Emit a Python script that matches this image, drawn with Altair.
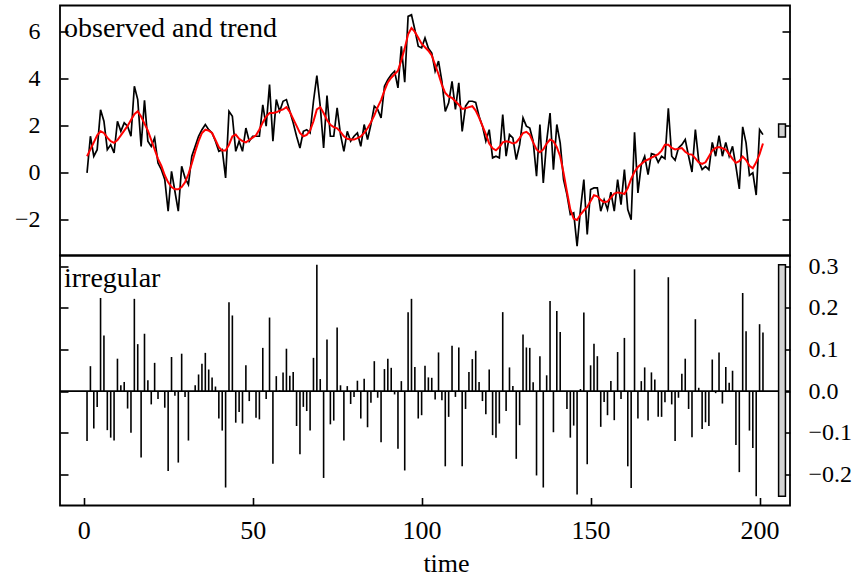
import altair as alt
import pandas as pd

# ---- series (time index 1..201) ----
time = list(range(1, 202))

observed = [
    0.00, 1.56, 0.71, 0.99, 2.69, 2.20, 0.99, 1.20, 0.85, 2.20,
    1.77, 2.13, 1.99, 1.56, 3.69, 3.12, 1.13, 3.09, 1.35, 1.13,
    1.49, 0.42, 0.14, -0.28, -1.63, 0.07, -0.78, -1.63, 0.28, -0.21,
    -0.50, 0.71, 1.13, 1.56, 1.84, 2.06, 1.84, 1.70, 1.35, 0.92,
    0.99, -0.21, 2.62, 2.41, 0.92, 1.35, 0.92, 1.91, 1.35, 1.56,
    1.56, 1.56, 2.90, 1.99, 3.76, 1.35, 3.12, 2.62, 3.05, 3.12,
    2.62, 2.13, 1.56, 1.06, 1.77, 1.84, 1.70, 3.05, 4.14, 2.84,
    1.06, 3.29, 1.56, 1.56, 2.77, 1.63, 0.92, 1.77, 1.35, 1.56,
    1.70, 1.13, 2.06, 1.42, 2.06, 2.84, 2.70, 2.34, 3.69, 3.97,
    4.18, 4.33, 3.62, 5.39, 3.86, 6.66, 6.73, 6.09, 5.39, 5.32,
    5.74, 5.30, 5.10, 4.33, 4.76, 3.90, 2.62, 2.98, 3.90, 2.70,
    3.83, 1.77, 2.84, 3.05, 3.05, 3.00, 2.41, 1.99, 1.35, 1.84,
    0.64, 0.71, 0.64, 2.48, 0.71, 1.63, 1.49, 0.57, 1.20, 2.34,
    1.99, 1.91, 1.35, -0.14, 2.06, -0.43, 1.35, 2.55, 0.14, 2.06,
    1.28, -0.28, -0.92, -1.77, -1.70, -3.12, -1.56, -0.28, -2.62, -0.71,
    -0.64, -0.64, -1.63, -1.14, -1.56, -0.82, -1.63, -0.28, -1.35, 0.14,
    -1.56, -1.99, 1.73, -0.85, 0.35, 0.71, -0.07, 0.82, 0.78, 0.45,
    0.71, 0.61, 2.75, 0.71, 0.54, 1.06, 1.20, 1.42, 0.71, 0.04,
    1.84, 0.50, 0.14, 0.28, 0.14, 1.30, 0.71, 1.59, 0.71, 1.30,
    0.71, 1.13, 0.28, -0.68, 1.96, 1.28, -0.11, 0.00, -0.94, 1.84,
    1.63,
]

trend = [
    0.71, 1.00, 1.30, 1.60, 1.77, 1.70, 1.50, 1.35, 1.28, 1.40,
    1.60, 1.80, 2.00, 2.25, 2.50, 2.62, 2.40, 2.10, 1.80, 1.40,
    1.00, 0.60, 0.30, -0.10, -0.40, -0.60, -0.70, -0.70, -0.60, -0.40,
    -0.05, 0.40, 0.90, 1.35, 1.70, 1.84, 1.80, 1.70, 1.40, 1.10,
    0.95, 0.95, 1.20, 1.55, 1.63, 1.45, 1.35, 1.30, 1.40, 1.50,
    1.60, 1.85, 2.15, 2.40, 2.55, 2.55, 2.58, 2.65, 2.70, 2.80,
    2.60, 2.30, 2.00, 1.70, 1.56, 1.62, 1.80, 2.20, 2.70, 2.80,
    2.55, 2.25, 2.05, 1.95, 1.90, 1.75, 1.56, 1.45, 1.42, 1.42,
    1.48, 1.55, 1.70, 1.90, 2.15, 2.45, 2.80, 3.10, 3.50, 3.85,
    4.05, 4.20, 4.35, 4.80, 5.30, 5.90, 6.17, 6.00, 5.75, 5.50,
    5.35, 5.20, 5.00, 4.60, 4.20, 3.75, 3.40, 3.25, 3.19, 3.05,
    2.90, 2.72, 2.75, 2.80, 2.84, 2.65, 2.35, 2.00, 1.65, 1.25,
    1.05, 0.96, 1.10, 1.30, 1.35, 1.32, 1.25, 1.30, 1.48, 1.70,
    1.75, 1.63, 1.30, 1.00, 0.88, 1.00, 1.25, 1.42, 1.35, 1.10,
    0.71, 0.00, -0.80, -1.56, -1.95, -2.00, -1.77, -1.60, -1.45, -1.20,
    -0.95, -1.00, -1.15, -1.25, -1.22, -1.05, -0.88, -0.83, -0.85, -0.90,
    -0.65, -0.25, 0.05, 0.25, 0.38, 0.50, 0.57, 0.65, 0.72, 0.80,
    0.95, 1.20, 1.20, 1.06, 1.00, 1.03, 1.06, 0.90, 0.80, 0.78,
    0.62, 0.45, 0.38, 0.45, 0.70, 0.95, 1.06, 1.10, 1.05, 0.99,
    0.80, 0.60, 0.43, 0.50, 0.70, 0.55, 0.30, 0.20, 0.45, 0.80,
    1.25,
]

irregular = [
    -0.120, 0.060, -0.090, -0.038, 0.224, 0.134, -0.094, -0.112, -0.119, 0.078,
    0.014, 0.022, -0.042, -0.100, 0.222, 0.113, -0.160, 0.138, 0.026, -0.032,
    0.068, -0.019, 0.000, -0.040, -0.192, 0.082, -0.011, -0.172, 0.090, -0.014,
    -0.119, 0.000, 0.014, 0.040, 0.066, 0.092, 0.052, 0.033, 0.011, -0.066,
    -0.095, -0.232, 0.214, 0.182, -0.076, -0.050, -0.078, 0.062, -0.024, 0.000,
    -0.064, -0.068, 0.104, -0.019, 0.177, -0.175, 0.036, 0.002, 0.045, 0.102,
    0.037, 0.046, -0.084, -0.152, -0.038, -0.048, -0.095, 0.080, 0.304, 0.029,
    -0.209, 0.124, -0.080, -0.071, 0.153, 0.014, -0.119, 0.012, -0.031, -0.014,
    0.025, -0.066, 0.030, -0.087, -0.028, 0.072, -0.016, -0.123, 0.053, 0.078,
    0.056, -0.008, -0.139, 0.024, -0.191, 0.190, 0.222, 0.058, -0.066, -0.058,
    0.061, 0.033, 0.032, -0.020, 0.093, -0.022, -0.181, -0.062, 0.109, -0.014,
    0.105, -0.181, -0.043, 0.046, 0.077, 0.097, 0.022, -0.024, -0.056, 0.052,
    -0.106, -0.112, -0.078, 0.190, -0.048, 0.057, 0.012, -0.163, -0.082, 0.136,
    0.105, 0.104, 0.021, -0.203, 0.084, -0.232, 0.038, 0.217, -0.099, 0.193,
    0.142, 0.000, -0.043, -0.112, -0.083, -0.249, 0.005, 0.189, -0.176, 0.062,
    0.114, 0.084, -0.086, -0.026, -0.058, 0.024, -0.070, 0.094, -0.019, 0.128,
    -0.181, -0.233, 0.293, -0.066, 0.024, 0.057, -0.071, 0.045, 0.028, -0.062,
    -0.062, -0.027, 0.274, -0.032, -0.120, -0.016, 0.042, 0.078, -0.043, -0.111,
    0.173, 0.008, -0.091, -0.075, -0.084, 0.076, -0.005, 0.093, -0.030, 0.058,
    0.020, 0.049, -0.130, -0.195, 0.236, 0.144, -0.095, -0.137, -0.253, 0.161,
    0.141,
]

panel_labels = ["observed and trend", "irregular"]
top_ticks = [-2, 0, 2, 4, 6]
irr_ticks = [-0.2, -0.1, 0.0, 0.1, 0.2, 0.3]
time_ticks = [0, 50, 100, 150, 200]

# ---- layout / style ----
FONT = "Liberation Serif"
W, H = 730, 250
TICK = 8
AXIS_SIZE = 24
X_SIZE = 26
LABEL_SIZE = 28


def extend(lo, hi, f=0.04):
    r = hi - lo
    return [lo - f * r, hi + f * r]


x_dom = extend(min(time), max(time))
top_lo = min(min(observed), min(trend))
top_hi = max(max(observed), max(trend))
top_dom = extend(top_lo, top_hi)
irr_lo, irr_hi = min(irregular), max(irregular)
irr_dom = extend(irr_lo, irr_hi)

# range bars: same absolute height in both panels
bar_h = min(top_hi - top_lo, irr_hi - irr_lo)
dx = (x_dom[1] - x_dom[0]) / 64
bar_x0, bar_x1 = x_dom[1] - dx, x_dom[1] - 0.4 * dx

df = pd.DataFrame({"time": time, "observed": observed, "trend": trend,
                   "irregular": irregular, "zero": [0.0] * len(time)})
zero_df = pd.DataFrame({"zero": [0.0]})
bars_top = pd.DataFrame({"x0": [bar_x0], "x1": [bar_x1],
                         "y0": [(top_lo + top_hi) / 2 - bar_h / 2],
                         "y1": [(top_lo + top_hi) / 2 + bar_h / 2]})
bars_irr = pd.DataFrame({"x0": [bar_x0], "x1": [bar_x1],
                         "y0": [(irr_lo + irr_hi) / 2 - bar_h / 2],
                         "y1": [(irr_lo + irr_hi) / 2 + bar_h / 2]})

x_scale = alt.Scale(domain=x_dom, nice=False, zero=False)
top_scale = alt.Scale(domain=top_dom, nice=False, zero=False)
irr_scale = alt.Scale(domain=irr_dom, nice=False, zero=False)


def tick_axis(orient, values, labels=False, size=AXIS_SIZE, pad=0, fmt=None):
    kw = dict(orient=orient, values=values, offset=-TICK, tickSize=TICK,
              tickWidth=1.6, tickColor="black", domain=False, grid=False,
              title=None, labels=labels)
    if labels:
        kw.update(labelFont=FONT, labelFontSize=size, labelColor="black",
                  labelPadding=pad, labelFlush=False, labelOverlap=False)
        if fmt:
            kw["format"] = fmt
    return alt.Axis(**kw)


def panel_text(label):
    return alt.Chart(pd.DataFrame({"label": [label]})).mark_text(
        align="left", baseline="alphabetic", font=FONT, fontSize=LABEL_SIZE,
        color="black"
    ).encode(text="label:N", x=alt.value(4), y=alt.value(31.5))


x_none = alt.X("time:Q", scale=x_scale, axis=None)

top = alt.layer(
    alt.Chart(df).mark_line(color="black", strokeWidth=1.7).encode(
        x=x_none,
        y=alt.Y("observed:Q", scale=top_scale,
                axis=tick_axis("left", top_ticks, labels=True, pad=20)),
    ),
    alt.Chart(df).mark_line(color="#FF0000", strokeWidth=2).encode(
        x=x_none,
        y=alt.Y("trend:Q", scale=top_scale, axis=tick_axis("right", top_ticks)),
    ),
    alt.Chart(bars_top).mark_rect(fill="#D3D3D3", stroke="black",
                                  strokeWidth=1.5).encode(
        x=alt.X("x0:Q", scale=x_scale, axis=None), x2="x1:Q",
        y=alt.Y("y0:Q", scale=top_scale, axis=None), y2="y1:Q",
    ),
    panel_text(panel_labels[0]),
).resolve_axis(y="independent").properties(width=W, height=H)

x_axis = alt.Axis(
    orient="bottom", values=time_ticks, offset=-TICK, tickSize=TICK,
    tickWidth=1.6, tickColor="black", domain=False, grid=False,
    labelFont=FONT, labelFontSize=X_SIZE, labelColor="black", labelPadding=12,
    labelFlush=False, title="time", titleFont=FONT, titleFontSize=X_SIZE,
    titleFontWeight="normal", titleColor="black", titleBaseline="alphabetic",
    titleAlign="center", titleX=386, titleY=74,
)

bottom = alt.layer(
    # irregular component as vertical spikes from zero
    alt.Chart(df).mark_rule(color="black", strokeWidth=1.6).encode(
        x=alt.X("time:Q", scale=x_scale, axis=x_axis),
        y=alt.Y("irregular:Q", scale=irr_scale,
                axis=tick_axis("left", irr_ticks)),
        y2="zero:Q",
    ),
    # zero reference line across the full panel width
    alt.Chart(zero_df).mark_rule(color="black", strokeWidth=1.6).encode(
        x=alt.value(0),
        x2=alt.value(W),
        y=alt.Y("zero:Q", scale=irr_scale, axis=None),
    ),
    alt.Chart(bars_irr).mark_rect(fill="#D3D3D3", stroke="black",
                                  strokeWidth=1.5).encode(
        x=alt.X("x0:Q", scale=x_scale, axis=x_axis), x2="x1:Q",
        y=alt.Y("y0:Q", scale=irr_scale,
                axis=tick_axis("right", irr_ticks, labels=True, pad=18,
                               fmt=".1f")),
        y2="y1:Q",
    ),
    panel_text(panel_labels[1]),
).resolve_axis(y="independent").properties(width=W, height=H)

chart = alt.vconcat(top, bottom, spacing=0, bounds="flush").configure_view(
    stroke="black", strokeWidth=1.8
).properties(
    padding={"left": 13, "top": 4.5, "right": 0, "bottom": 0},
    background="white",
)

chart.save("out.html", embed_options={"renderer": "svg", "actions": False})
